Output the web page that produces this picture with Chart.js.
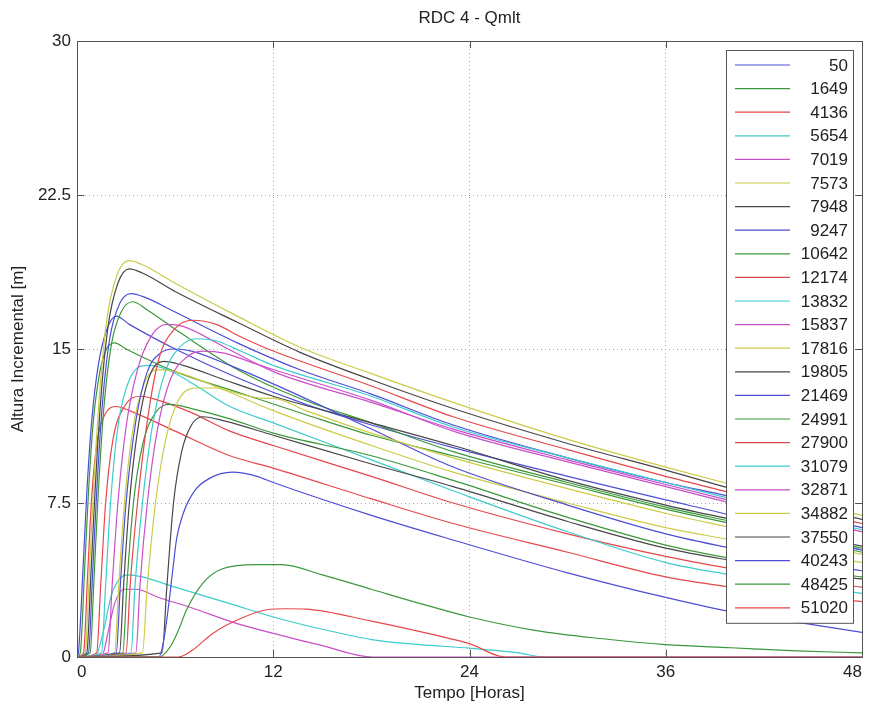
<!DOCTYPE html>
<html>
<head>
<meta charset="utf-8">
<script src="https://cdn.jsdelivr.net/npm/chart.js@4.4.1/dist/chart.umd.min.js"></script>
<style>
  html, body { margin: 0; padding: 0; background: #fff; }
</style>
</head>
<body>
<canvas id="rdcChart" width="870" height="706"></canvas>
<script>
// chart text
const chartTitle = 'RDC 4 - Qmlt';
const xLabel = 'Tempo [Horas]';
const yLabel = 'Altura Incremental [m]';

// axis ticks
const xTicks = [0, 12, 24, 36, 48];
const yTicks = [0, 7.5, 15, 22.5, 30];

// legend names (in plot order)
const seriesNames = ['50', '1649', '4136', '5654', '7019', '7573', '7948', '9247', '10642', '12174',
    '13832', '15837', '17816', '19805', '21469', '24991', '27900', '31079', '32871', '34882',
    '37550', '40243', '48425', '51020'];

// each series as [hora, altura] pairs
const s50 = [[0,0],[0.1,0.3],[0.35,4],[0.6,8],[0.9,11.5],[1.3,14.2],[1.8,15.9],[2.4,16.6],[3.2,16.2],[6,15.0],[9.8,13.6],[14,12.3],[18,11.3],[23,10.2],[30,8.8],[36,7.65],[40,6.9],[44,6.0],[48,5.2]];
const s1649 = [[0,0],[0.2,0.2],[0.45,4],[0.7,8],[1.0,11.5],[1.4,13.9],[1.8,15.0],[2.3,15.3],[3.0,15.0],[6,13.9],[9.8,12.9],[14,11.8],[18,10.8],[23,9.8],[30,8.4],[36,7.2],[40,6.5],[44,5.8],[48,5.1]];
const s4136 = [[0,0],[0.4,0.2],[0.65,4],[0.9,7.8],[1.25,10.6],[1.7,11.8],[2.4,12.2],[3.2,12.0],[6,11.0],[9.35,9.8],[12,9.2],[18,7.7],[23,6.5],[30,5.1],[36,3.9],[40,3.4],[44,3.0],[48,2.7]];
const s5654 = [[0,0],[1.1,0],[1.6,1.2],[2.1,3.0],[2.6,3.8],[3.1,4.0],[4,3.9],[6,3.4],[9.35,2.6],[12,1.95],[15,1.35],[18,0.85],[21,0.6],[24,0.43],[27,0.2],[28.6,0],[48,0]];
const s7019 = [[0,0],[1.5,0],[1.9,1.2],[2.3,2.6],[2.9,3.3],[3.6,3.3],[5,2.9],[7,2.4],[9.5,1.7],[12,1.15],[15,0.55],[18.1,0],[48,0]];
const s7573 = [[0,0],[0.5,0.2],[0.75,4],[1.0,8],[1.35,12.5],[1.8,16.3],[2.4,18.5],[3.2,19.3],[4,19.1],[6,18.2],[9.8,16.6],[13.6,15.1],[18,13.8],[23,12.4],[30,10.6],[36,9.25],[40,8.4],[44,7.6],[48,6.9]];
const s7948 = [[0,0],[0.6,0.2],[0.85,4],[1.1,8],[1.45,12.5],[1.9,16.1],[2.5,18.2],[3.2,18.9],[4,18.7],[6,17.8],[9.8,16.3],[13.6,14.85],[18,13.5],[23,12.1],[30,10.4],[36,9.1],[40,8.2],[44,7.4],[48,6.7]];
const s9247 = [[0,0],[0.7,0.2],[0.95,4],[1.2,8],[1.55,12.3],[2.0,15.5],[2.6,17.2],[3.3,17.7],[4.2,17.5],[6,16.8],[9.8,15.3],[13.6,14.0],[18,12.8],[23,11.3],[30,9.7],[36,8.5],[40,7.8],[44,7.0],[48,6.3]];
const s10642 = [[0,0],[0.8,0.2],[1.05,4],[1.3,8],[1.65,12.2],[2.1,15.2],[2.7,16.8],[3.4,17.3],[4.3,16.9],[6.3,15.8],[9.8,14.0],[13.6,12.6],[18,11.4],[23,10.0],[30,8.5],[36,7.3],[40,6.6],[44,5.9],[48,5.3]];
const s12174 = [[0,0],[1.2,0.2],[1.45,3.5],[1.75,7.5],[2.2,10.6],[2.9,12.2],[3.9,12.7],[5,12.5],[7,11.9],[9.35,11.0],[12,10.3],[18,8.8],[23,7.5],[30,6.0],[36,4.9],[40,4.3],[44,3.8],[48,3.4]];
const s13832 = [[0,0],[1.5,0.2],[1.75,3.5],[2.05,7.5],[2.5,11.2],[3.2,13.5],[4.3,14.2],[5.5,14.0],[7.5,13.1],[9.35,12.2],[12,11.4],[18,9.6],[24,7.8],[30,6.1],[36,4.6],[40,4.0],[44,3.5],[48,3.1]];
const s15837 = [[0,0],[1.9,0.2],[2.15,3.5],[2.5,7.5],[3.0,11.2],[3.7,14.0],[4.6,15.7],[5.5,16.2],[6.5,16.1],[9,15.1],[12,13.9],[18,12.4],[23,11.1],[30,9.6],[36,8.4],[40,7.6],[44,6.8],[48,6.1]];
const s17816 = [[0,0],[2.3,0.2],[2.55,3.5],[2.9,7.5],[3.4,11],[4.1,13.3],[5.0,14.0],[6,13.9],[9,13.0],[12,12.0],[18,10.3],[23,9.0],[30,7.5],[36,6.3],[40,5.7],[44,5.1],[48,4.6]];
const s19805 = [[0,0],[2.6,0.2],[2.85,3.5],[3.2,7.5],[3.7,11],[4.4,13.6],[5.3,14.4],[6.5,14.2],[9,13.5],[12,12.7],[18,11.4],[23,10.3],[30,8.6],[36,7.4],[40,6.7],[44,6.0],[48,5.4]];
const s21469 = [[0,0],[2.4,0.2],[2.65,3.5],[3.0,7.5],[3.6,11.5],[4.3,13.9],[5.1,14.8],[5.9,15.0],[7,14.9],[9.35,14.2],[12,13.3],[18,11.1],[23,9.25],[30,7.4],[36,6.0],[40,5.3],[44,4.7],[48,4.2]];
const s24991 = [[0,0],[2.8,0.2],[3.05,3.5],[3.45,7.5],[4.0,10.3],[4.8,11.9],[5.7,12.3],[7,12.1],[9.35,11.6],[12,10.9],[18,9.8],[23,8.6],[30,6.8],[36,5.45],[40,4.8],[44,4.3],[48,3.9]];
const s27900 = [[0,0],[3.0,0.2],[3.25,3.5],[3.7,7.5],[4.3,11.5],[5.0,14.5],[6.0,16.0],[7.1,16.4],[8.5,16.2],[10,15.6],[12,14.9],[18,13.2],[23,11.7],[30,10.1],[36,8.8],[40,8.0],[44,7.2],[48,6.5]];
const s31079 = [[0,0],[3.3,0.2],[3.55,3.5],[4.0,7.5],[4.6,11.2],[5.4,13.9],[6.3,15.1],[7.3,15.5],[8.5,15.4],[10,14.9],[12,14.2],[18,12.7],[23,11.2],[30,9.7],[36,8.5],[40,7.7],[44,6.9],[48,6.2]];
const s32871 = [[0,0],[3.6,0.2],[3.85,3.5],[4.3,7.5],[4.9,11],[5.7,13.5],[6.7,14.6],[7.7,14.9],[9,14.8],[10.5,14.4],[12,14.0],[18,12.5],[23,11.0],[30,9.5],[36,8.3],[40,7.5],[44,6.8],[48,6.1]];
const s34882 = [[0,0],[4.0,0.2],[4.3,3.5],[4.8,7.5],[5.4,10.5],[6.2,12.5],[7.3,13.1],[8.5,13.1],[10,12.8],[11.4,12.6],[12,12.6],[14,12.0],[18,10.9],[23,9.7],[30,8.2],[36,7.0],[40,6.3],[44,5.6],[48,5.0]];
const s37550 = [[0,0],[5.2,0.2],[5.5,3.5],[5.9,7.5],[6.4,10],[7,11.3],[7.7,11.7],[9,11.5],[12,10.8],[18,9.4],[23,8.3],[30,6.6],[36,5.3],[40,4.7],[44,4.2],[48,3.8]];
const s40243 = [[0,0],[5.0,0],[5.3,0.8],[5.6,2.5],[5.85,4.2],[6.1,5.8],[6.5,7.0],[7.2,8.1],[8.1,8.7],[9.5,9.0],[11,8.8],[12,8.5],[18,6.9],[23,5.7],[30,4.1],[36,2.9],[40,2.2],[44,1.7],[48,1.2]];
const s48425 = [[0,0],[5.0,0],[5.7,0.5],[6.2,1.3],[6.7,2.3],[7.7,3.6],[8.9,4.3],[11,4.5],[12.5,4.5],[15,4.0],[18,3.3],[21,2.6],[24,1.95],[28,1.3],[32,0.9],[36,0.6],[40,0.45],[44,0.3],[48,0.2]];
const s51020 = [[0,0],[6.2,0],[7,0.3],[8.3,1.15],[9.8,1.8],[11.6,2.3],[12.8,2.35],[14,2.33],[18,1.75],[22,1.05],[24,0.65],[26.2,0],[48,0]];

const seriesData = [s50, s1649, s4136, s5654, s7019, s7573, s7948, s9247, s10642, s12174,
    s13832, s15837, s17816, s19805, s21469, s24991, s27900, s31079, s32871, s34882,
    s37550, s40243, s48425, s51020];

// matlab style colour cycle b g r c m y k (a bit washed out like the scan)
const colorCycle = ['#4d4dd6', '#3a983a', '#e6474b', '#3ccccc', '#c94fc9', '#cccc48', '#474747'];

const fontFamily = "'Liberation Sans', Arial, sans-serif";
const axisColor = '#555';

const datasets = seriesNames.map((name, i) => ({
    label: name,
    data: seriesData[i].map(p => ({ x: p[0], y: p[1] })),
    borderColor: colorCycle[i % colorCycle.length],
    borderWidth: 1.2,
    pointRadius: 0,
    fill: false,
    cubicInterpolationMode: 'monotone',
    order: seriesNames.length - i
}));

// title centred over the plot box
const titlePlugin = {
    id: 'plotTitle',
    afterDraw(chart) {
        const { ctx, chartArea } = chart;
        ctx.save();
        ctx.fillStyle = '#222';
        ctx.font = '17px ' + fontFamily;
        ctx.textAlign = 'center';
        ctx.textBaseline = 'middle';
        ctx.fillText(chartTitle, (chartArea.left + chartArea.right) / 2, 18);
        ctx.restore();
    }
};

// legend box in the upper right corner, like matlab
const legendPlugin = {
    id: 'boxLegend',
    afterDatasetsDraw(chart) {
        const { ctx, chartArea } = chart;
        const right = chartArea.right - 9;
        const left = right - 127;
        const top = chartArea.top + 9;
        const rowH = 23.6;
        const bottom = top + 15 + rowH * (seriesNames.length - 1) + 15;
        ctx.save();
        ctx.fillStyle = '#fff';
        ctx.fillRect(left, top, right - left, bottom - top);
        ctx.strokeStyle = axisColor;
        ctx.lineWidth = 1;
        ctx.strokeRect(left + 0.5, top + 0.5, right - left, bottom - top);
        ctx.font = '17px ' + fontFamily;
        ctx.textAlign = 'right';
        ctx.textBaseline = 'middle';
        chart.data.datasets.forEach((ds, i) => {
            const y = top + 15 + i * rowH;
            ctx.strokeStyle = ds.borderColor;
            ctx.lineWidth = 1.2;
            ctx.beginPath();
            ctx.moveTo(left + 9, y);
            ctx.lineTo(left + 64, y);
            ctx.stroke();
            ctx.fillStyle = '#222';
            ctx.fillText(ds.label, right - 5, y + 1);
        });
        ctx.restore();
    }
};

// axes box with inward ticks on all four sides
const boxPlugin = {
    id: 'axesBox',
    afterDraw(chart) {
        const { ctx, chartArea: a, scales } = chart;
        ctx.save();
        ctx.strokeStyle = axisColor;
        ctx.lineWidth = 1;
        ctx.strokeRect(Math.round(a.left) + 0.5, Math.round(a.top) + 0.5,
            Math.round(a.right - a.left), Math.round(a.bottom - a.top));
        const len = 7;
        ctx.beginPath();
        xTicks.forEach(v => {
            const x = Math.round(scales.x.getPixelForValue(v)) + 0.5;
            ctx.moveTo(x, a.bottom); ctx.lineTo(x, a.bottom - len);
            ctx.moveTo(x, a.top); ctx.lineTo(x, a.top + len);
        });
        yTicks.forEach(v => {
            const y = Math.round(scales.y.getPixelForValue(v)) + 0.5;
            ctx.moveTo(a.left, y); ctx.lineTo(a.left + len, y);
            ctx.moveTo(a.right, y); ctx.lineTo(a.right - len, y);
        });
        ctx.stroke();
        ctx.restore();
    }
};

const tickFont = { family: fontFamily, size: 17 };
const gridOpts = { color: '#a8a8a8', drawTicks: false, borderDash: [1, 3] };

new Chart(document.getElementById('rdcChart').getContext('2d'), {
    type: 'line',
    data: { datasets: datasets },
    options: {
        responsive: false,
        animation: false,
        events: [],
        layout: { padding: { top: 41, right: 8, left: 0, bottom: 0 } },
        plugins: {
            legend: { display: false },
            tooltip: { enabled: false },
            title: { display: false }
        },
        scales: {
            x: {
                type: 'linear',
                min: 0,
                max: 48,
                afterBuildTicks: s => { s.ticks = xTicks.map(v => ({ value: v })); },
                afterFit: s => { s.height = 49; s.paddingLeft = 0; s.paddingRight = 0; },
                grid: gridOpts,
                border: { display: false, dash: [1, 3] },
                ticks: { font: tickFont, color: '#222', padding: 5, maxRotation: 0, autoSkip: false, align: 'inner' },
                title: { display: true, text: xLabel, font: { family: fontFamily, size: 17 }, color: '#222', padding: { top: 0, bottom: 2 } }
            },
            y: {
                min: 0,
                max: 30,
                afterBuildTicks: s => { s.ticks = yTicks.map(v => ({ value: v })); },
                afterFit: s => { s.width = 77; s.paddingTop = 0; s.paddingBottom = 0; },
                grid: gridOpts,
                border: { display: false, dash: [1, 3] },
                ticks: { font: tickFont, color: '#222', padding: 6, autoSkip: false },
                title: { display: true, text: yLabel, font: { family: fontFamily, size: 17 }, color: '#222', padding: { top: 8, bottom: 0 } }
            }
        }
    },
    plugins: [legendPlugin, boxPlugin, titlePlugin]
});
</script>
</body>
</html>
